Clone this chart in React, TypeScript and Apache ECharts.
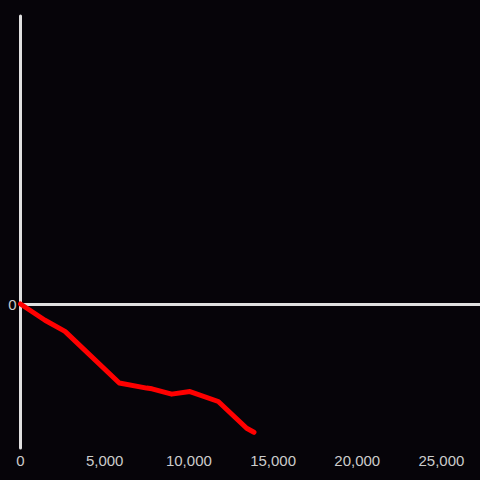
import React, { useEffect, useRef } from "react";
import * as echarts from "echarts";

const xValues = [0, 1455, 2643, 5867, 7494, 7809, 8979, 10065, 11746, 13432, 13866];
const yValues = [0, -113, -190, -549, -584, -589, -626, -608, -677, -863, -891];
const xAxisMax = 27290;

export default function App() {
  const ref = useRef<HTMLDivElement>(null);
  useEffect(() => {
    const chart = echarts.init(ref.current!, null, { renderer: "svg" });
    const data = xValues.map((x, i) => [x, yValues[i]]);
    chart.setOption({
      animation: false,
      backgroundColor: "#060409",
      grid: { left: 20.5, right: 0, top: 16, bottom: 32, containLabel: false },
      xAxis: {
        type: "value",
        min: 0,
        max: xAxisMax,
        interval: 5000,
        axisLine: { show: false, onZero: false },
        axisTick: { show: false },
        splitLine: { show: false },
        axisLabel: {
          color: "#cccccc",
          fontSize: 15,
          fontFamily: "Liberation Sans, Arial, sans-serif",
          margin: 5,
          showMaxLabel: false,
          formatter: (v: number) => v.toLocaleString("en-US"),
        },
      },
      yAxis: {
        type: "value",
        min: -1000,
        max: 2000,
        interval: 1000,
        axisLine: { show: true, lineStyle: { color: "#e0e0e0", width: 3 } },
        axisTick: { show: false },
        splitLine: { show: false },
        axisLabel: {
          color: "#cccccc",
          fontSize: 15,
          fontFamily: "Liberation Sans, Arial, sans-serif",
          margin: 4,
          formatter: (v: number) => (v === 0 ? "0" : ""),
        },
      },
      series: [
        {
          type: "line",
          data,
          showSymbol: false,
          lineStyle: { color: "#ff0000", width: 5, cap: "round", join: "round" },
          markLine: {
            silent: true,
            symbol: "none",
            label: { show: false },
            lineStyle: { color: "#e0e0e0", width: 3, type: "solid" },
            data: [{ yAxis: 0 }],
            z: 1,
          },
          z: 3,
        },
      ],
    });
    return () => chart.dispose();
  }, []);
  return <div ref={ref} style={{ width: 480, height: 480, position: "absolute", left: 0, top: 0 }} />;
}
